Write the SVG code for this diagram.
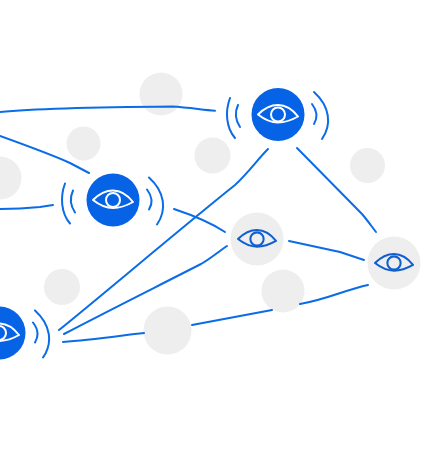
<svg xmlns="http://www.w3.org/2000/svg" width="421" height="457" viewBox="0 0 421 457">
<style>
.c{fill:none;stroke:#0a6ce8;stroke-width:2;stroke-linecap:round;stroke-linejoin:round}
.g{fill:#eeeeee}
.b{fill:#0663e6}
.ew{fill:none;stroke:#fff;stroke-width:2;stroke-linejoin:round}
.eb{fill:none;stroke:#0f5fd0;stroke-width:2.200;stroke-linejoin:round}
</style>
<defs>
<g id="eye"><path d="M-20 0C-13 -7 -7 -9.500 0 -9.500C7 -9.500 13 -7 20 2C13 6 7 8 0 8C-7 8 -13 5.500 -20 0Z"/><circle cx="0" cy="0" r="7"/></g>
<g id="waves"><path class="c" d="M-40 -9.500C-43 -3 -43 5 -38 12.500M-48 -16.500C-53 -3 -52 13 -43 23.500M34 -10.500C39 -4 40 3 36 9.500M36 -22.500C52 -8 54 10 44 24.500"/></g>
</defs>
<g id="bg-dots">
<circle class="g" cx="161" cy="94" r="21.500"/>
<circle class="g" cx="83.500" cy="143.500" r="17"/>
<circle class="g" cx="212.500" cy="155.500" r="18"/>
<circle class="g" cx="367.500" cy="165.500" r="17.500"/>
<circle class="g" cx="0" cy="178" r="21.500"/>
<circle class="g" cx="62" cy="287" r="18"/>
<circle class="g" cx="283" cy="291" r="21.500"/>
<circle class="g" cx="167.500" cy="330.500" r="24"/>
</g>
<g id="connectors">
<path class="c" d="M0 112C40 108 110 107 172 106.500C190 107.500 203 110 215 110.700"/>
<path class="c" d="M0 136C25 145 50 154 70 163L89 173"/>
<path class="c" d="M0 209C15 209 30 208 40 207L53 205"/>
<path class="c" d="M268 149C258 159 248 173 235 185C180 229 100 297 59 330"/>
<path class="c" d="M297 148L362 214C368 221 372 227 376 232"/>
<path class="c" d="M174 209C192 215 210 222 225 232"/>
<path class="c" d="M227 246C218 252 210 259 201 264C150 290 100 315 64 334"/>
<path class="c" d="M289 241L340 252L364 260"/>
<path class="c" d="M63 342C90 340 118 336 144 333"/>
<path class="c" d="M192 325L272 310"/>
<path class="c" d="M300 304C325 300 345 290 368 285"/>
</g>
<g id="node-top" transform="translate(278 114.500)">
<use href="#waves"/>
<circle class="b" r="26.500"/>
<use href="#eye" class="ew"/>
</g>
<g id="node-left" transform="translate(113 200)">
<use href="#waves"/>
<circle class="b" r="26.500"/>
<use href="#eye" class="ew"/>
</g>
<g id="node-bottom" transform="translate(-1 333)">
<use href="#waves"/>
<circle class="b" r="26.500"/>
<use href="#eye" class="ew"/>
</g>
<g id="node-mid" transform="translate(257 239)">
<circle class="g" r="26.500"/>
<use href="#eye" class="eb" transform="scale(.95)"/>
</g>
<g id="node-right" transform="translate(394 263)">
<circle class="g" r="26.500"/>
<use href="#eye" class="eb" transform="scale(.95)"/>
</g>
</svg>
